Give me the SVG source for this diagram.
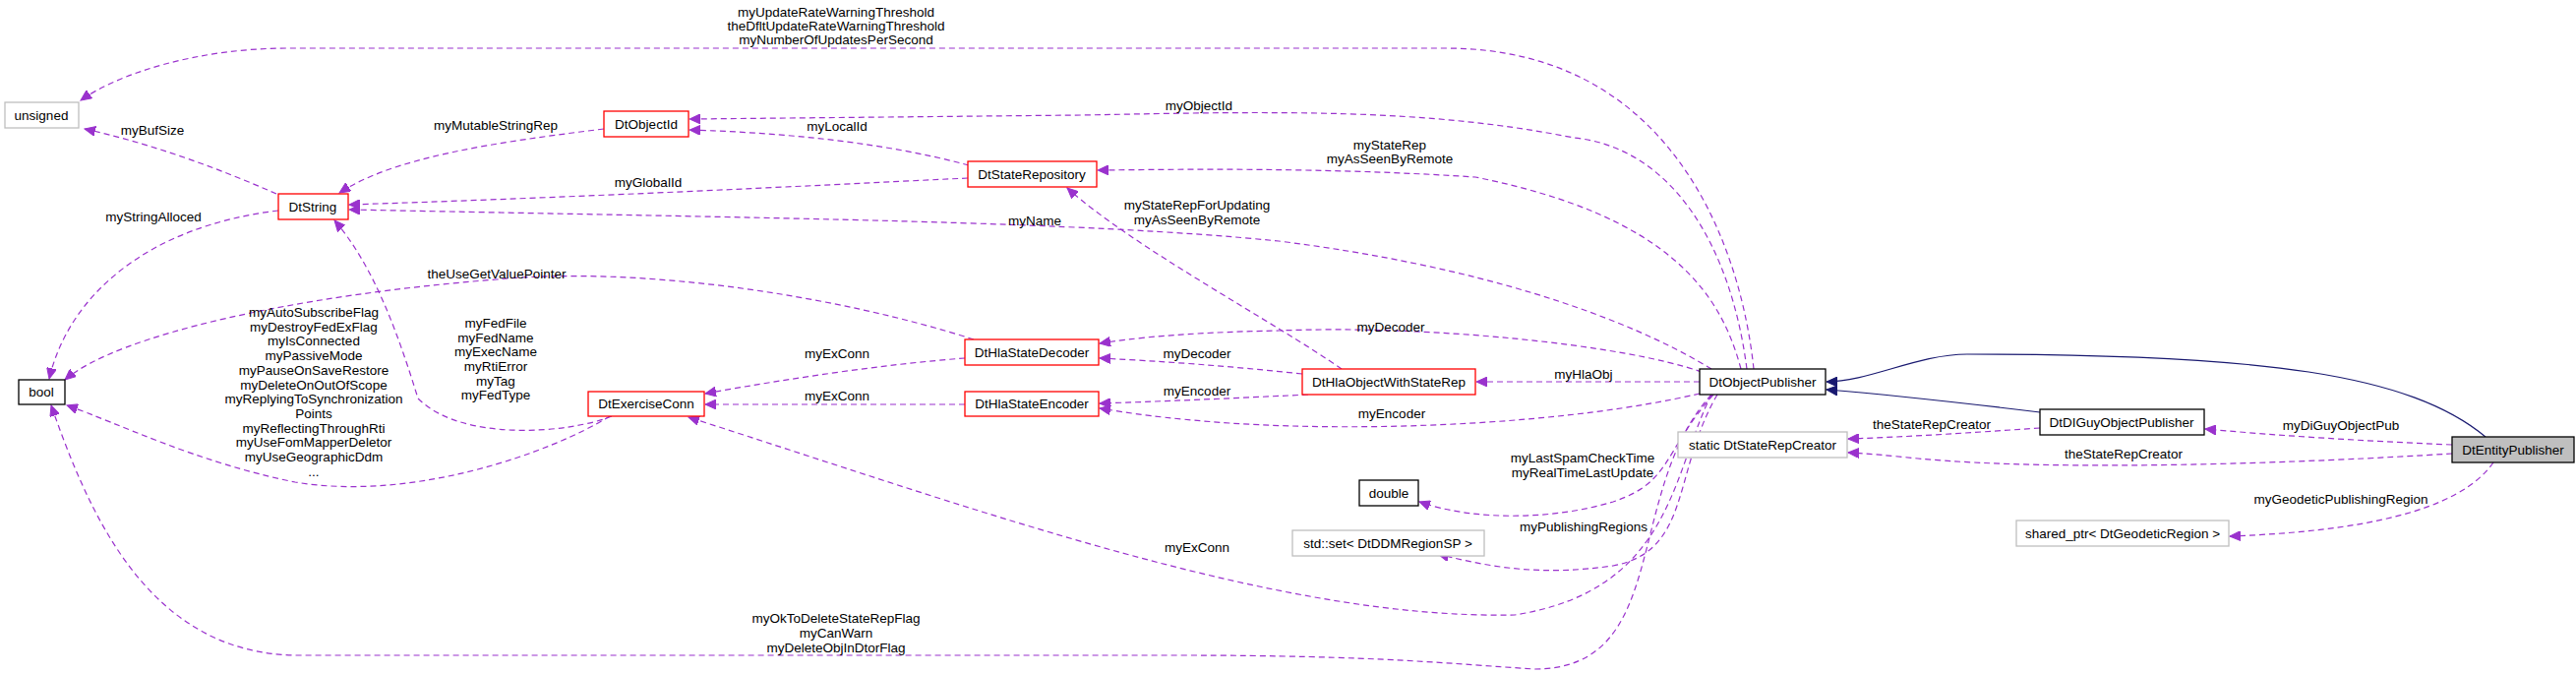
<svg xmlns="http://www.w3.org/2000/svg" width="2619" height="685" viewBox="0 0 2619 685">
<style>
text{font-family:"Liberation Sans",Arial,sans-serif;font-size:13.5px;fill:#000;text-anchor:middle}
.n rect{fill:#fff;stroke-width:1.3}
.r rect{stroke:#ff0000}
.g rect{stroke:#bfbfbf}
.k rect{stroke:#000}
.e path{fill:none;stroke:#9a32cd;stroke-width:1.2;stroke-dasharray:6,4;marker-end:url(#pa)}
.e path.i{stroke:#191970;stroke-dasharray:none;marker-end:url(#na)}
</style>
<defs>
<marker id="pa" markerWidth="12" markerHeight="10" refX="11" refY="5" orient="auto" markerUnits="userSpaceOnUse"><path d="M0,0 L11,5 L0,10 z" fill="#9a32cd" stroke="#9a32cd"/></marker>
<marker id="na" markerWidth="12" markerHeight="10" refX="11" refY="5" orient="auto" markerUnits="userSpaceOnUse"><path d="M0,0 L11,5 L0,10 z" fill="#191970" stroke="#191970"/></marker>
</defs>
<rect width="2619" height="685" fill="#fff"/>
<g id="connectors" class="e">
<path d="M1783,375 C1770,250 1700,49 1470,49 L293,49 C200,49 120,75 82,102"/>
<path d="M1776,375 C1760,250 1700,150 1600,140 C1450,110 1300,113 1100,117 L701,121"/>
<path d="M985,168 C900,145 800,135 701,132"/>
<path d="M614,131 C500,145 400,160 345,196"/>
<path d="M281,197 C220,170 150,145 86,131"/>
<path d="M984,181 C800,190 600,200 355,208"/>
<path d="M1740,375 C1650,320 1500,270 1300,245 C1100,225 800,222 355,213"/>
<path d="M283,214 C150,230 70,300 50,385"/>
<path d="M990,345 C850,300 650,270 505,284 C300,300 120,340 66,386"/>
<path d="M620,423 C560,460 420,510 300,490 C200,470 120,430 68,412"/>
<path d="M622,423 C580,440 470,450 425,405 C405,340 380,270 340,224"/>
<path d="M981,364 C900,370 800,385 717,400"/>
<path d="M981,411 L717,411"/>
<path d="M1740,401 C1700,480 1700,600 1540,625 C1300,630 1000,520 700,424"/>
<path d="M1740,401 C1650,500 1700,680 1560,680 C1480,675 1400,666 1200,666 L304,666 C150,666 90,520 52,412"/>
<path d="M1364,375 C1300,330 1150,250 1085,191"/>
<path d="M1770,375 C1750,300 1700,220 1500,180 C1350,170 1200,172 1116,173"/>
<path d="M1730,378 C1650,350 1450,330 1300,336 C1200,338 1150,344 1118,349"/>
<path d="M1324,380 C1250,372 1180,367 1118,364"/>
<path d="M1330,401 C1250,405 1180,408 1118,410"/>
<path d="M1728,400 C1600,430 1400,440 1250,430 C1180,425 1150,420 1118,415"/>
<path d="M1728,388 L1501,388"/>
<path d="M1742,401 C1690,460 1700,490 1640,510 C1580,528 1500,530 1443,510"/>
<path d="M1746,401 C1700,480 1720,560 1640,575 C1570,585 1520,578 1462,563"/>
<path class="i" d="M2527,444 C2450,380 2300,360 2000,360 C1950,360 1900,388 1857,388"/>
<path class="i" d="M2074,419 C2000,410 1930,402 1857,396"/>
<path d="M2074,435 C2000,440 1940,444 1879,446"/>
<path d="M2493,461 C2350,470 2100,480 1950,466 C1920,463 1900,461 1879,460"/>
<path d="M2493,452 C2400,448 2320,443 2242,436"/>
<path d="M2535,470 C2500,520 2400,540 2267,545"/>
</g>
<g id="n-unsigned" class="n g"><rect x="5" y="104" width="75" height="26"/><text x="42" y="122">unsigned</text></g>
<g id="n-DtObjectId" class="n r"><rect x="614" y="113" width="86" height="26"/><text x="657" y="131">DtObjectId</text></g>
<g id="n-DtString" class="n r"><rect x="283" y="197" width="71" height="26"/><text x="318" y="215">DtString</text></g>
<g id="n-bool" class="n k"><rect x="19" y="386" width="47" height="25"/><text x="42" y="403">bool</text></g>
<g id="n-DtExerciseConn" class="n r"><rect x="598" y="398" width="118" height="25"/><text x="657" y="415">DtExerciseConn</text></g>
<g id="n-DtStateRepository" class="n r"><rect x="984" y="164" width="131" height="26"/><text x="1049" y="182">DtStateRepository</text></g>
<g id="n-DtHlaStateDecoder" class="n r"><rect x="981" y="345" width="136" height="26"/><text x="1049" y="363">DtHlaStateDecoder</text></g>
<g id="n-DtHlaStateEncoder" class="n r"><rect x="981" y="398" width="136" height="25"/><text x="1049" y="415">DtHlaStateEncoder</text></g>
<g id="n-DtHlaObjectWithStateRep" class="n r"><rect x="1324" y="375" width="176" height="26"/><text x="1412" y="393">DtHlaObjectWithStateRep</text></g>
<g id="n-DtObjectPublisher" class="n k"><rect x="1728" y="375" width="128" height="26"/><text x="1792" y="393">DtObjectPublisher</text></g>
<g id="n-DtStateRepCreator" class="n g"><rect x="1706" y="439" width="172" height="26"/><text x="1792" y="457">static DtStateRepCreator</text></g>
<g id="n-DtDIGuyObjectPublisher" class="n k"><rect x="2074" y="416" width="167" height="26"/><text x="2157" y="434">DtDIGuyObjectPublisher</text></g>
<g id="n-DtEntityPublisher" class="n k"><rect x="2493" y="444" width="124" height="26" style="fill:#bfbfbf"/><text x="2555" y="462">DtEntityPublisher</text></g>
<g id="n-sharedptr" class="n g"><rect x="2050" y="529" width="216" height="26"/><text x="2158" y="547">shared_ptr&lt; DtGeodeticRegion &gt;</text></g>
<g id="n-double" class="n k"><rect x="1382" y="488" width="60" height="26"/><text x="1412" y="506">double</text></g>
<g id="n-stdset" class="n g"><rect x="1314" y="539" width="195" height="26"/><text x="1411" y="557">std::set&lt; DtDDMRegionSP &gt;</text></g>
<g id="labels">
<text x="850" y="17">myUpdateRateWarningThreshold</text>
<text x="850" y="31">theDfltUpdateRateWarningThreshold</text>
<text x="850" y="45">myNumberOfUpdatesPerSecond</text>
<text x="1219" y="112">myObjectId</text>
<text x="851" y="133">myLocalId</text>
<text x="504" y="132">myMutableStringRep</text>
<text x="155" y="137">myBufSize</text>
<text x="659" y="190">myGlobalId</text>
<text x="1052" y="229">myName</text>
<text x="156" y="225">myStringAlloced</text>
<text x="505" y="283">theUseGetValuePointer</text>
<text x="319" y="322">myAutoSubscribeFlag</text>
<text x="319" y="337">myDestroyFedExFlag</text>
<text x="319" y="351">myIsConnected</text>
<text x="319" y="366">myPassiveMode</text>
<text x="319" y="381">myPauseOnSaveRestore</text>
<text x="319" y="396">myDeleteOnOutOfScope</text>
<text x="319" y="410">myReplyingToSynchronization</text>
<text x="319" y="425">Points</text>
<text x="319" y="440">myReflectingThroughRti</text>
<text x="319" y="454">myUseFomMapperDeletor</text>
<text x="319" y="469">myUseGeographicDdm</text>
<text x="319" y="484">...</text>
<text x="504" y="333">myFedFile</text>
<text x="504" y="348">myFedName</text>
<text x="504" y="362">myExecName</text>
<text x="504" y="377">myRtiError</text>
<text x="504" y="392">myTag</text>
<text x="504" y="406">myFedType</text>
<text x="851" y="364">myExConn</text>
<text x="851" y="407">myExConn</text>
<text x="1217" y="561">myExConn</text>
<text x="850" y="633">myOkToDeleteStateRepFlag</text>
<text x="850" y="648">myCanWarn</text>
<text x="850" y="663">myDeleteObjInDtorFlag</text>
<text x="1217" y="213">myStateRepForUpdating</text>
<text x="1217" y="228">myAsSeenByRemote</text>
<text x="1413" y="152">myStateRep</text>
<text x="1413" y="166">myAsSeenByRemote</text>
<text x="1414" y="337">myDecoder</text>
<text x="1217" y="364">myDecoder</text>
<text x="1217" y="402">myEncoder</text>
<text x="1415" y="425">myEncoder</text>
<text x="1610" y="385">myHlaObj</text>
<text x="1609" y="470">myLastSpamCheckTime</text>
<text x="1609" y="485">myRealTimeLastUpdate</text>
<text x="1610" y="540">myPublishingRegions</text>
<text x="1964" y="436">theStateRepCreator</text>
<text x="2159" y="466">theStateRepCreator</text>
<text x="2380" y="437">myDiGuyObjectPub</text>
<text x="2380" y="512">myGeodeticPublishingRegion</text>
</g>
</svg>
